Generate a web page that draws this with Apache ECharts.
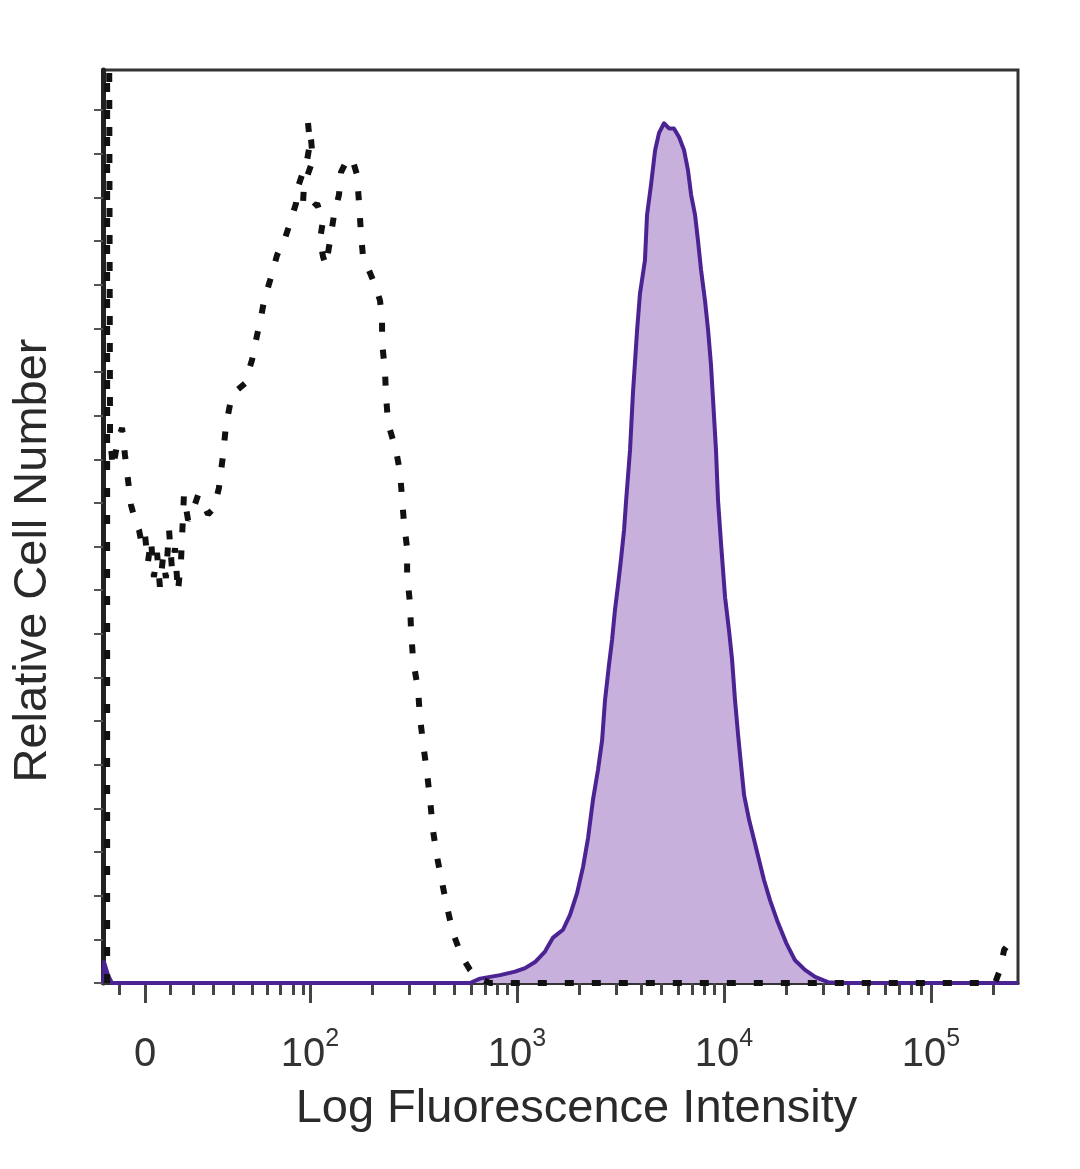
<!DOCTYPE html>
<html>
<head>
<meta charset="utf-8">
<script src="https://cdn.jsdelivr.net/npm/echarts@6/dist/echarts.min.js"></script>
<style>html,body{margin:0;padding:0;background:#fff}#c{width:1080px;height:1169px}</style>
</head>
<body>
<div id="c"></div>
<script>
// x values are in display (decade) units: 10^n sits at n; the "0" label sits at 1.203
const isoX = [1.02,1.02,1.03,1.034,1.048,1.072,1.092,1.106,1.121,1.135,1.155,1.174,1.188,1.203,1.217,1.232,1.246,1.261,1.275,1.290,1.304,1.319,1.333,1.348,1.362,1.377,1.391,1.411,1.435,1.459,1.483,1.507,1.536,1.560,1.580,1.594,1.618,1.647,1.686,1.720,1.744,1.763,1.778,1.807,1.841,1.879,1.908,1.932,1.942,1.966,1.986,2.000,1.990,2.005,2.014,1.971,1.966,2.000,2.034,2.063,2.048,2.063,2.077,2.097,2.116,2.140,2.150,2.179,2.203,2.227,2.237,2.246,2.256,2.280,2.314,2.338,2.348,2.348,2.362,2.367,2.377,2.415,2.435,2.444,2.454,2.469,2.469,2.483,2.488,2.498,2.522,2.531,2.546,2.565,2.580,2.594,2.614,2.638,2.662,2.691,2.734,2.773,2.807,2.870,5.309,5.333,5.353,5.372,5.382];
const isoY = [0,104.6,104.6,62.5,59.0,62.2,63.6,60.5,57.6,54.8,53.0,51.9,50.2,51.3,48.2,50.7,46.5,49.3,45.4,48.8,46.4,51.9,47.5,49.8,44.8,48.5,55.9,53.0,54.2,55.9,55.0,53.7,54.4,56.7,60.5,63.9,66.8,67.9,68.7,71.4,74.2,76.2,78.2,80.5,83.4,85.3,87.4,89.3,91.2,92.9,94.3,96.2,98.6,96.6,94.3,91.4,89.3,88.5,89.3,87.4,85.1,83.2,82.2,85.1,88.0,90.3,92.9,94.3,94.5,92.6,89.3,85.9,83.2,81.9,80.0,78.2,76.2,73.4,70.2,67.4,64.1,61.1,58.5,55.7,52.7,49.8,46.7,43.5,40.4,37.0,33.6,30.5,27.5,24.1,21.0,17.5,14.4,11.5,8.7,5.7,3.0,1.5,0.6,0,0,1.5,3.8,4.4,4.0];

const stainX = [1.0,1.005,1.024,1.043,2.773,2.821,2.918,2.990,3.039,3.087,3.135,3.174,3.222,3.256,3.290,3.319,3.343,3.367,3.391,3.411,3.425,3.444,3.459,3.473,3.488,3.502,3.517,3.527,3.546,3.560,3.580,3.594,3.618,3.628,3.647,3.667,3.686,3.710,3.734,3.758,3.783,3.807,3.826,3.841,3.860,3.874,3.889,3.908,3.923,3.937,3.947,3.961,3.971,3.986,4.005,4.024,4.039,4.053,4.068,4.082,4.097,4.121,4.145,4.169,4.193,4.222,4.256,4.300,4.343,4.391,4.440,4.502,4.560,5.42];
const stainY = [0,2.4,0.9,0,0,0.5,0.9,1.3,1.7,2.4,3.6,5.2,6.1,7.8,10.3,13.3,16.6,21.0,24.4,27.8,32.4,36.4,39.3,42.7,45.6,48.5,51.9,55.3,61.1,67.6,74.8,79.0,82.8,88.0,91.4,95.4,97.4,98.5,97.9,97.9,96.9,95.4,93.1,90.3,88.0,85.1,81.7,78.2,74.8,70.8,66.8,61.1,55.3,50.2,44.2,40.4,37.0,32.4,28.4,25.0,21.5,18.7,16.4,14.1,11.8,9.5,7.2,4.6,2.6,1.5,0.7,0.1,0,0];

const majorTicks = [1.203, 2, 3, 4, 5];
const majorLabels = ['0', '2', '3', '4', '5'];   // '0' or exponent of 10
const lowMinorTicks = [1.08, 1.324, 1.435, 1.531, 1.628, 1.720, 1.792, 1.855, 1.918, 1.966];
const yTickValues = [0,5,10,15,20,25,30,35,40,45,50,55,60,65,70,75,80,85,90,95,100];

const X_MIN = 1.0, X_MAX = 5.42, Y_MAX = 104.6;

const minorTicks = lowMinorTicks.slice();
for (let n = 2; n <= 5; n++) {
  for (let k = 2; k <= 9; k++) {
    const v = Math.log10(k) + n;
    if (v < X_MAX) minorTicks.push(v);
  }
}

const zip = (a, b) => a.map((v, i) => [v, b[i]]);
const labelMap = {};
majorTicks.forEach((t, i) => { labelMap[t.toFixed(3)] = majorLabels[i]; });

const FONT = 'Liberation Sans';
const chart = echarts.init(document.getElementById('c'), null, {renderer: 'canvas'});
chart.setOption({
  backgroundColor: '#fff',
  animation: false,
  grid: {left: 103, right: 62, top: 70, bottom: 186, show: true, borderColor: '#333', borderWidth: 3, backgroundColor: 'transparent'},
  xAxis: [{
    type: 'value', min: X_MIN, max: X_MAX, gridIndex: 0,
    name: 'Log Fluorescence Intensity', nameLocation: 'middle', nameGap: 103,
    nameTextStyle: {fontFamily: FONT, fontSize: 47, color: '#2a2a2a', padding: [0, 0, 0, 32]},
    axisLine: {show: true, lineStyle: {color: '#333', width: 3}},
    axisTick: {show: true, customValues: majorTicks, length: 20, lineStyle: {color: '#444', width: 3}},
    axisLabel: {
      show: true, customValues: majorTicks, margin: 44,
      formatter: function (v) {
        const e = labelMap[v.toFixed(3)];
        if (e === '0') return '{b|0}';
        return '{b|10}{s|' + e + '}';
      },
      rich: {
        b: {fontFamily: FONT, fontSize: 40, color: '#333', lineHeight: 48, verticalAlign: 'bottom'},
        s: {fontFamily: FONT, fontSize: 25, color: '#333', lineHeight: 48, verticalAlign: 'top'}
      }
    },
    splitLine: {show: false}
  }, {
    type: 'value', min: X_MIN, max: X_MAX, gridIndex: 0, position: 'bottom',
    axisLine: {show: false},
    axisTick: {show: true, customValues: minorTicks, length: 12, lineStyle: {color: '#444', width: 3}},
    axisLabel: {show: false},
    splitLine: {show: false}
  }],
  yAxis: {
    type: 'value', min: 0, max: Y_MAX,
    name: 'Relative Cell Number', nameLocation: 'middle', nameGap: 46, nameRotate: 90,
    nameTextStyle: {fontFamily: FONT, fontSize: 47, color: '#2a2a2a', padding: [0, 68, 0, 0]},
    axisLine: {show: true, lineStyle: {color: '#222', width: 5}},
    axisTick: {show: true, customValues: yTickValues, length: 9, lineStyle: {color: '#555', width: 2}},
    axisLabel: {show: false},
    splitLine: {show: false}
  },
  series: [{
    name: 'stained', type: 'line', xAxisIndex: 0, data: zip(stainX, stainY),
    showSymbol: false, symbol: 'none', z: 2,
    lineStyle: {color: '#4b2393', width: 4, join: 'round'},
    areaStyle: {color: '#c8b0dc', opacity: 1}
  }, {
    name: 'isotype', type: 'line', xAxisIndex: 0, data: zip(isoX, isoY),
    showSymbol: false, symbol: 'none', z: 3,
    lineStyle: {color: '#111', width: 6, type: [9, 18], cap: 'butt'}
  }]
});
</script>
</body>
</html>
